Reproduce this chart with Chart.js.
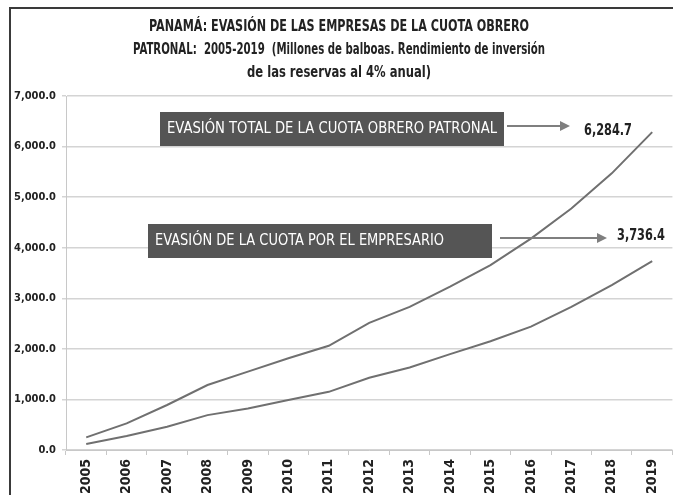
<!DOCTYPE html>
<html>
<head>
<meta charset="utf-8">
<script src="https://cdn.jsdelivr.net/npm/chart.js@4.4.0/dist/chart.umd.min.js"></script>
<style>
html, body { margin: 0; padding: 0; background: #fff; overflow: hidden; }
#wrap { position: relative; width: 673px; height: 495px; overflow: hidden; }
#frame { position: absolute; left: 9px; top: 7px; width: 700px; height: 520px; border: 2px solid #3a3a3a; box-sizing: border-box; }
canvas { position: absolute; left: 0; top: 0; }
</style>
</head>
<body>
<div id="wrap"><div id="frame"></div><canvas id="chart" width="673" height="495"></canvas></div>
<script>
var years = ['2005', '2006', '2007', '2008', '2009', '2010', '2011', '2012', '2013', '2014', '2015', '2016', '2017', '2018', '2019'];
// evasión total de la cuota obrero patronal (millones de balboas)
var totalEvasion = [250, 527, 890, 1285, 1550, 1815, 2060, 2515, 2830, 3230, 3655, 4180, 4775, 5470, 6284.7];
// evasión de la cuota por el empresario
var employerEvasion = [120, 277, 460, 690, 820, 990, 1150, 1430, 1630, 1895, 2150, 2440, 2830, 3260, 3736.4];
var titleLines = [
    'PANAMÁ: EVASIÓN DE LAS EMPRESAS DE LA CUOTA OBRERO',
    'PATRONAL:  2005-2019  (Millones de balboas. Rendimiento de inversión',
    'de las reservas al 4% anual)'
];
var seriesNames = ['EVASIÓN TOTAL DE LA CUOTA OBRERO PATRONAL', 'EVASIÓN DE LA CUOTA POR EL EMPRESARIO'];

var FONT = '"Liberation Sans Narrow", "DejaVu Sans Condensed", "Liberation Sans", sans-serif';
Chart.defaults.font.family = FONT;

function fmt(v){
    return v.toLocaleString('en-US', {minimumFractionDigits: 1, maximumFractionDigits: 1});
}

function arrow(ctx, x1, x2, y){
    ctx.save();
    ctx.strokeStyle = '#7f7f7f';
    ctx.fillStyle = '#7f7f7f';
    ctx.lineWidth = 2;
    ctx.beginPath();
    ctx.moveTo(x1, y);
    ctx.lineTo(x2 - 8, y);
    ctx.stroke();
    ctx.beginPath();
    ctx.moveTo(x2, y);
    ctx.lineTo(x2 - 10, y - 5);
    ctx.lineTo(x2 - 10, y + 5);
    ctx.closePath();
    ctx.fill();
    ctx.restore();
}

var decorations = {
    id: 'decorations',
    afterDraw: function(chart){
        var ctx = chart.ctx;
        ctx.save();
        // title, squeezed to the narrow width of the original
        var titleWidths = [380, 412, 184];
        ctx.fillStyle = '#222';
        ctx.font = 'bold 16px ' + FONT;
        ctx.textAlign = 'center';
        ctx.textBaseline = 'middle';
        titleLines.forEach(function(t, i){ ctx.fillText(t, 339, 27 + i * 23, titleWidths[i]); });

        // labelled boxes with arrows pointing at the last values
        var boxes = [
            {x: 160, y: 112, w: 344, h: 34, tw: 330, ax1: 507, ax2: 570, ay: 126, lx: 584, ly: 131, value: totalEvasion[totalEvasion.length - 1]},
            {x: 148, y: 224, w: 344, h: 34, tw: 289, ax1: 500, ax2: 607, ay: 238, lx: 617, ly: 236, value: employerEvasion[employerEvasion.length - 1]}
        ];
        boxes.forEach(function(b, i){
            ctx.fillStyle = '#555555';
            ctx.fillRect(b.x, b.y, b.w, b.h);
            ctx.fillStyle = '#ffffff';
            ctx.font = '15px ' + FONT;
            ctx.textAlign = 'left';
            ctx.fillText(seriesNames[i], b.x + 7, b.y + b.h / 2, b.tw);
            arrow(ctx, b.ax1, b.ax2, b.ay);
            ctx.fillStyle = '#222';
            ctx.font = 'bold 15px ' + FONT;
            ctx.fillText(fmt(b.value), b.lx, b.ly, 48);
        });
        ctx.restore();
    }
};

new Chart(document.getElementById('chart').getContext('2d'), {
    type: 'line',
    data: {
        labels: years,
        datasets: [{
            label: seriesNames[0],
            data: totalEvasion,
            borderColor: '#707070',
            borderWidth: 2,
            pointRadius: 0,
            tension: 0,
            fill: false
        }, {
            label: seriesNames[1],
            data: employerEvasion,
            borderColor: '#707070',
            borderWidth: 2,
            pointRadius: 0,
            tension: 0,
            fill: false
        }]
    },
    options: {
        responsive: false,
        animation: false,
        layout: { padding: { left: 12, top: 96, right: 0, bottom: 0 } },
        plugins: {
            legend: { display: false },
            title: { display: false },
            tooltip: { enabled: false }
        },
        scales: {
            x: {
                offset: true,
                grid: { offset: true, drawOnChartArea: false, tickLength: 5, color: '#c8c8c8' },
                border: { color: '#c8c8c8' },
                ticks: {
                    minRotation: 90, maxRotation: 90, padding: 4,
                    color: '#222',
                    font: { size: 14, weight: 'bold' }
                },
                afterFit: function(s){ s.height = 45; }
            },
            y: {
                min: 0, max: 7000,
                grid: { color: '#d4d4d4', tickLength: 4, lineWidth: 1.5 },
                border: { color: '#c8c8c8' },
                ticks: {
                    stepSize: 1000, padding: 6,
                    color: '#222',
                    font: { size: 11, weight: 'bold' },
                    callback: function(v){ return fmt(v); }
                },
                afterFit: function(s){ s.width = 54; }
            }
        }
    },
    plugins: [decorations]
});
</script>
</body>
</html>
